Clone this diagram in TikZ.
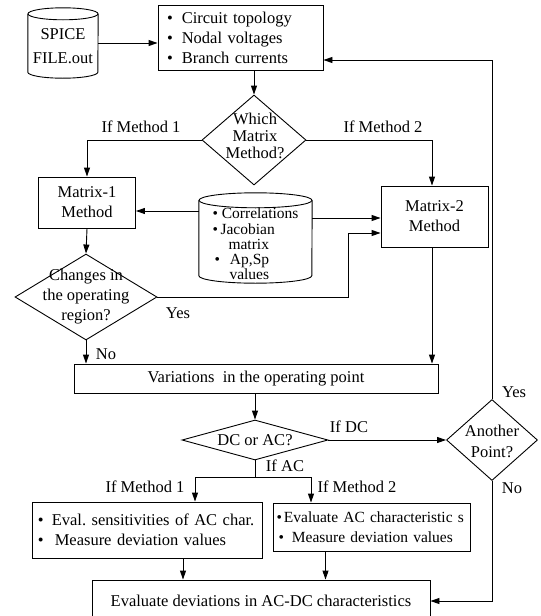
\documentclass[tikz,border=0pt]{standalone}
\usepackage{fontspec}
\setmainfont{Liberation Serif}
\usetikzlibrary{shapes.geometric,arrows.meta,calc}
\begin{document}
\begin{tikzpicture}[x=1pt,y=-1pt,
  every node/.style={font=\fontsize{16.5pt}{20pt}\selectfont},
  box/.style={draw, line width=0.9pt, inner sep=0pt, align=center},
  dia/.style={draw, diamond, line width=0.9pt, inner sep=0pt},
  holder/.style={inner sep=0pt},
  arr/.style={line width=0.9pt, -{Triangle[length=9pt,width=6pt]}},
  ln/.style={line width=0.9pt},
  lab/.style={inner sep=0pt}
]
\useasboundingbox (0,0) rectangle (541,616);

% SPICE file cylinder
\node[holder, minimum width=70pt, minimum height=70pt] (spice) at (63,43) {};
\draw[ln] ($(spice.north)+(0,6)$) ellipse [x radius=35, y radius=6];
\draw[ln] ($(spice.north west)+(0,6)$) -- ($(spice.south west)+(0,-6)$)
  arc[start angle=180, end angle=0, x radius=35, y radius=6] -- ($(spice.north east)+(0,6)$);
\node[lab, align=center, font=\fontsize{16.5pt}{24pt}\selectfont] (spicet) at (63,46) {SPICE\\FILE.out};

\node[box, minimum width=165pt, minimum height=65pt, text width=147pt, align=left] (top) at (240.5,37.5)
  {\textbullet\hspace{9pt}Circuit topology\\\textbullet\hspace{9pt}Nodal voltages\\\textbullet\hspace{9pt}Branch currents};

\node[dia, minimum width=104pt, minimum height=90pt] (q1) at (254,140) {};
\node[lab, align=center, font=\fontsize{16.5pt}{17pt}\selectfont] (q1t) at (255,136) {Which\\Matrix\\Method?};

\node[box, minimum width=97pt, minimum height=51pt] (m1) at (87,202.5) {Matrix-1\\Method};
\node[box, minimum width=107pt, minimum height=61pt] (m2) at (434.5,216.5) {Matrix-2\\Method};

% data cylinder
\node[holder, minimum width=113pt, minimum height=90pt] (db) at (255.5,238) {};
\draw[ln] ($(db.north)+(0,7.5)$) ellipse [x radius=56.5, y radius=7.5];
\draw[ln] ($(db.north west)+(0,7.5)$) -- ($(db.south west)+(0,-7.5)$)
  arc[start angle=180, end angle=0, x radius=56.5, y radius=7.5] -- ($(db.north east)+(0,7.5)$);
\node[lab, align=left, font=\fontsize{15.5pt}{15.2pt}\selectfont] (dbt) at (255.5,244)
  {\textbullet\ Correlations\\\textbullet\,Jacobian\\\hspace*{16pt}matrix\\\hspace*{2pt}\textbullet\hspace{10pt}Ap,Sp\\\hspace*{17pt}values};

\node[dia, minimum width=142pt, minimum height=86pt] (q2) at (86,297) {};
\node[lab, align=center] (q2t) at (86,297) {Changes in\\the operating\\region?};

\node[box, minimum width=364pt, minimum height=29pt] (var) at (256,378.5) {Variations\ \ in the operating point};

\node[dia, minimum width=146pt, minimum height=40pt] (q3) at (255,440) {};
\node[lab] (q3t) at (255,440) {DC or AC?};

\node[dia, minimum width=91pt, minimum height=81pt] (q4) at (492,440) {};
\node[lab, align=center, font=\fontsize{16.5pt}{21pt}\selectfont] (q4t) at (492,441) {Another\\Point?};

\node[box, minimum width=230pt, minimum height=56pt, text width=226pt, align=left] (ac1) at (147,530)
  {\hspace*{4pt}\textbullet\hspace{8pt}Eval.\ sensitivities of AC char.\\\hspace*{4pt}\textbullet\hspace{11pt}Measure deviation values};
\node[box, minimum width=197pt, minimum height=48pt, text width=194pt, align=left,
  font=\fontsize{15.5pt}{20pt}\selectfont] (ac2) at (371.5,527)
  {\hspace*{2pt}\textbullet\hspace{2pt}Evaluate AC characteristic s\\\hspace*{4pt}\textbullet\hspace{8pt}Measure deviation values};

\node[box, minimum width=338pt, minimum height=42pt] (fin) at (261,601) {Evaluate deviations in AC-DC characteristics};

% labels
\node[lab] (l1) at (141,127) {If Method 1};
\node[lab] (l2) at (383,127) {If Method 2};
\node[lab] (l3) at (178,313) {Yes};
\node[lab] (l4) at (106,354) {No};
\node[lab] (l5) at (349,427) {If DC};
\node[lab] (l6) at (285,466) {If AC};
\node[lab] (l7) at (145,487) {If Method 1};
\node[lab] (l8) at (357,487) {If Method 2};
\node[lab] (l9) at (514,392) {Yes};
\node[lab] (l10) at (512,488) {No};

% coordinates
\coordinate (bend) at (348,233);
\coordinate (split) at (255,477);
\coordinate (jl) at (195,477);
\coordinate (jr) at (311,477);
\coordinate (dbw) at ($(db.west)+(0,-27)$);
\coordinate (dbe) at ($(db.east)+(0,-20)$);

% connectors
\draw[arr] (spice.east) -- (spice.east -| top.west);
\draw[arr] (top.south -| q1.north) -- (q1.north);
\draw[arr] (q1.west) -| (m1.north);
\draw[arr] (q1.east) -| ([xshift=-2.5pt]m2.north);
\draw[arr] (dbw) -- (dbw -| m1.east);
\draw[arr] (dbe) -- (dbe -| m2.west);
\draw[arr] (m1.south) -- (q2.north);
\draw[arr] (q2.east) -| (bend) -- (bend -| m2.west);
\draw[arr] (q2.south) -- (q2.south |- var.north);
\draw[arr] ([xshift=-2.5pt]m2.south) -- ([xshift=-2.5pt]m2.south |- var.north);
\draw[arr] (var.south -| q3.north) -- (q3.north);
\draw[arr] (q3.east) -- (q4.west);
\draw[arr] (q4.north) |- ([yshift=-22.5pt]top.east);
\draw[arr] (q4.south) |- (fin.east);
\draw[ln] (q3.south) -- (split);
\draw[arr] (split) -- (jl) -- (jl |- ac1.north);
\draw[arr] (split) -- (jr) -- (jr |- ac2.north);
\draw[arr] ([xshift=36pt]ac1.south) -- ([xshift=36pt]ac1.south |- fin.north);
\draw[arr] ([xshift=-46pt]ac2.south) -- ([xshift=-46pt]ac2.south |- fin.north);
\end{tikzpicture}
\end{document}
